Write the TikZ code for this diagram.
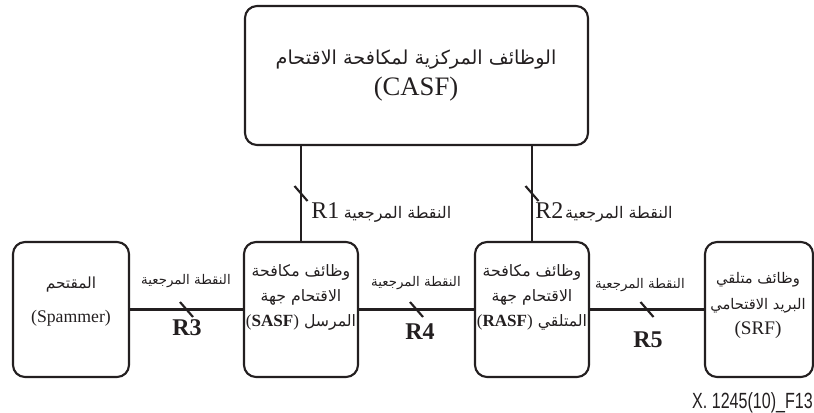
\documentclass[tikz,border=0pt]{standalone}
\usepackage{fontspec}
\setmainfont{Liberation Serif}
\newfontfamily\arabicfont[Script=Arabic]{DejaVu Sans}
\newfontfamily\footfont{Liberation Sans}
\usetikzlibrary{calc}
\TeXXeTstate=1
\definecolor{ink}{HTML}{231F20}
\newcommand{\AR}[1]{{\arabicfont\beginR #1\endR}}
\newcommand{\LT}[1]{\beginL{\rmfamily #1}\endL}
\begin{document}
\begin{tikzpicture}[x=0.75pt,y=-0.75pt,
  box/.style={draw=ink, line width=1.6pt, rounded corners=9pt, inner sep=0pt, minimum height=135*0.75pt},
  conn/.style={draw=ink, line width=1.6pt},
  tickmark/.style={draw=ink, line width=1.6pt},
  lbl/.style={text=ink, inner sep=0pt},
  boxtxt/.style={text=ink, inner sep=0pt, align=center, font=\fontsize{11.8pt}{18.75pt}\selectfont},
  arlbl/.style={text=ink, inner sep=0pt, font=\fontsize{10pt}{12pt}\selectfont},
  rbig/.style={text=ink, inner sep=0pt, font=\fontsize{18pt}{20pt}\selectfont\bfseries},
]
\useasboundingbox (0,0) rectangle (814,412);
% boxes
\node[box, minimum width=343*0.75pt, minimum height=139*0.75pt] (casf) at (416.5,75.5) {};
\node[box, minimum width=116*0.75pt] (spam) at (71,309.5) {};
\node[box, minimum width=114*0.75pt] (sasf) at (301,309.5) {};
\node[box, minimum width=114*0.75pt] (rasf) at (532,309.5) {};
\node[box, minimum width=108*0.75pt] (srf) at (759,309.5) {};
% box texts
\node[lbl, font=\fontsize{14.4pt}{18pt}\selectfont] (casfa) at (416,60) {\AR{الوظائف المركزية لمكافحة الاقتحام}};
\node[lbl, font=\fontsize{20pt}{22pt}\selectfont] (casfl) at (416,89) {(CASF)};
\node[lbl, font=\fontsize{11.5pt}{12pt}\selectfont] (spama) at (71,285) {\AR{المقتحم}};
\node[lbl, font=\fontsize{13.3pt}{15pt}\selectfont] (spaml) at (71,318) {(Spammer)};
\node[boxtxt] (sasft) at (301,297.5) {\AR{وظائف مكافحة}\\\AR{الاقتحام جهة}\\\AR{المرسل \LT{\fontsize{12.8pt}{15pt}\selectfont(\textbf{SASF})}}};
\node[boxtxt] (rasft) at (532,297.5) {\AR{وظائف مكافحة}\\\AR{الاقتحام جهة}\\\AR{المتلقي \LT{\fontsize{12.8pt}{15pt}\selectfont(\textbf{RASF})}}};
\node[boxtxt, font=\fontsize{11pt}{19pt}\selectfont] (srft) at (758,305.5) {\AR{وظائف متلقي}\\\AR{البريد الاقتحامي}\\{\rmfamily\fontsize{14.4pt}{15pt}\selectfont(SRF)}};
% vertical connectors
\draw[conn] (sasf.north) -- (sasf.north |- casf.south) coordinate[midway] (t1);
\draw[conn] (rasf.north) -- (rasf.north |- casf.south) coordinate[midway] (t2);
% horizontal connectors
\draw[conn] (spam.east) -- (sasf.west) coordinate[midway] (t3);
\draw[conn] (sasf.east) -- (rasf.west) coordinate[midway] (t4);
\draw[conn] (rasf.east) -- (srf.west) coordinate[midway] (t5);
% ticks
\foreach \t in {t1,t2,t3,t4,t5}
  \draw[tickmark] ($(\t)+(-6.5,-7.5)$) -- ($(\t)+(6.5,7.5)$);
% reference point labels
\node[lbl, anchor=base west, font=\fontsize{18pt}{20pt}\selectfont] (r1) at (311,218) {R1};
\node[arlbl, anchor=base west, font=\fontsize{12pt}{14pt}\selectfont] (r1a) at ([xshift=3pt]r1.base east) {\AR{النقطة المرجعية}};
\node[lbl, anchor=base west, font=\fontsize{18pt}{20pt}\selectfont] (r2) at (535,218) {R2};
\node[arlbl, anchor=base west, font=\fontsize{12pt}{14pt}\selectfont] (r2a) at ([xshift=1pt]r2.base east) {\AR{النقطة المرجعية}};
\node[arlbl] (r3a) at (186,281) {\AR{النقطة المرجعية}};
\node[rbig, anchor=base] (r3) at (187,335) {R3};
\node[arlbl] (r4a) at (416,283) {\AR{النقطة المرجعية}};
\node[rbig, anchor=base] (r4) at (420,339) {R4};
\node[arlbl] (r5a) at (640,285) {\AR{النقطة المرجعية}};
\node[rbig, anchor=base] (r5) at (648,347) {R5};
% footer
\node[lbl, anchor=base east] (foot) at (813,408) {\scalebox{0.73}[1]{\footfont\fontsize{16.5pt}{18pt}\selectfont X. 1245(10)\_F13}};
\end{tikzpicture}
\end{document}
